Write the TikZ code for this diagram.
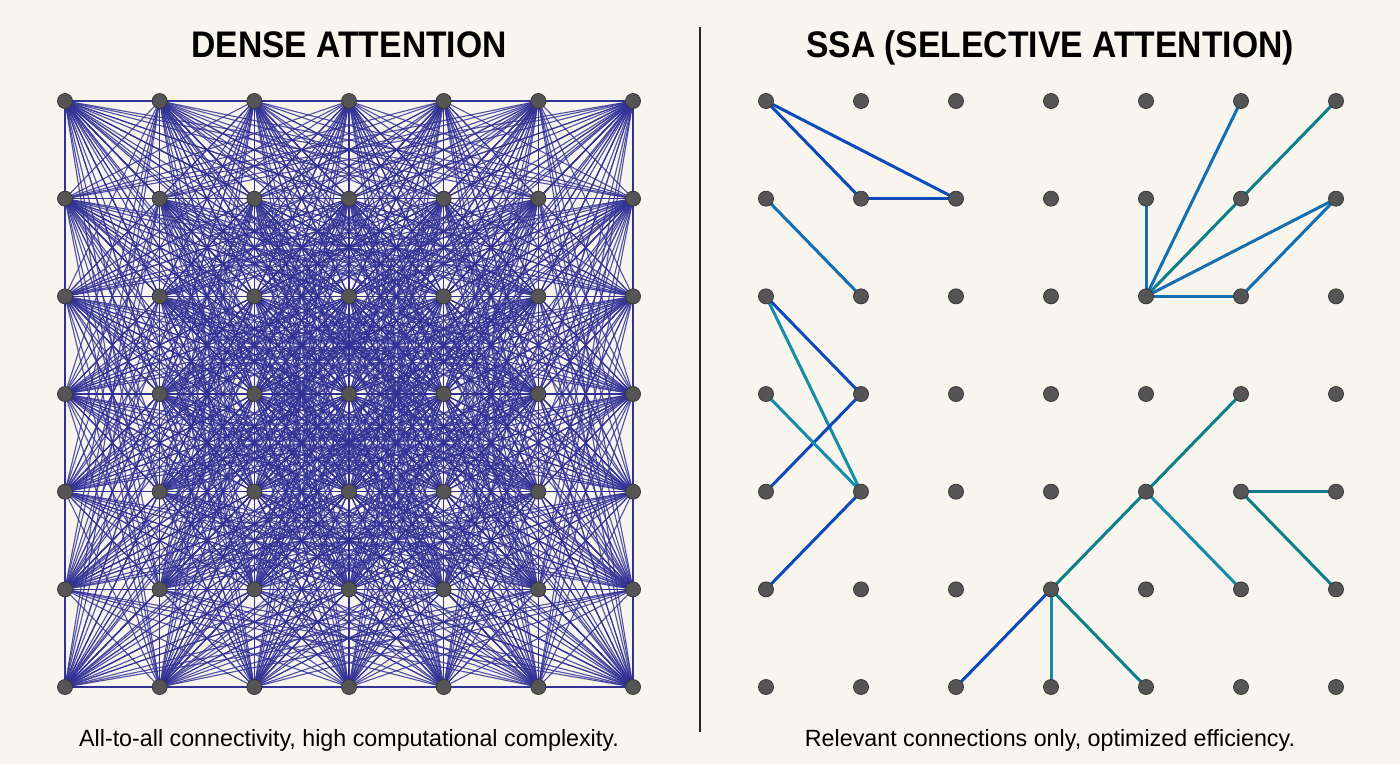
\documentclass[tikz,border=0pt]{standalone}
\usepackage{fontspec}
\setmainfont{Liberation Sans}
\newfontfamily\titlefont[FakeStretch=0.91]{Liberation Sans}
\newfontfamily\captionfont[FakeStretch=0.99]{Liberation Sans}
\usepackage{xcolor}
\usepackage{tikz}
\usetikzlibrary{calc}

\definecolor{papercolor}{HTML}{F8F5EE}
\definecolor{densecolor}{RGB}{50,50,150}
\definecolor{dotcolor}{HTML}{555555}
\definecolor{dotedge}{HTML}{383838}
\definecolor{ssablue}{RGB}{14,74,184}
\definecolor{ssamid}{RGB}{20,110,178}
\definecolor{ssateal}{RGB}{22,140,168}
\definecolor{ssadeep}{RGB}{14,126,140}

\begin{document}
\begin{tikzpicture}[x=1pt, y=-1pt]

% arguments: prefix, left x, x step
\newcommand{\setgrid}[3]{%
\foreach \r in {0,...,6} {
	\foreach \c in {0,...,6} {
		\pgfmathtruncatemacro\k{7*\r+\c}
		\path (#2 + \c*#3, 101 + \r*97.67) node [shape=coordinate] (#1\k) {} ;
	}
}
}

% arguments: prefix
\newcommand{\drawgrid}[1]{%
\foreach \k in {0,...,48} {
	\draw [line width=0.8pt, dotedge, fill=dotcolor] (#1\k) circle (7.5) ;
}
}

\tikzset{%
dense line/.style={line width=1.1pt, densecolor, opacity=0.85},
ssa line/.style={line width=3pt, line cap=round}%
}

\fill [papercolor] (0,0) rectangle (1400,764) ;
\useasboundingbox (0,0) rectangle (1400,764) ;

\setgrid{L}{65}{94.67}
\setgrid{R}{766}{95}

% titles and captions

\node [anchor=base] (densetitle) at (349,57)
	{\titlefont\bfseries\fontsize{37}{40}\selectfont DENSE ATTENTION} ;
\node [anchor=base] (ssatitle) at (1050,57)
	{\titlefont\bfseries\fontsize{37}{40}\selectfont SSA (SELECTIVE ATTENTION)} ;

\node [anchor=base] (densecaption) at (349,746)
	{\captionfont\fontsize{23.5}{26}\selectfont All-to-all connectivity, high computational complexity.} ;
\node [anchor=base] (ssacaption) at (1050,746)
	{\captionfont\fontsize{23.5}{26}\selectfont Relevant connections only, optimized efficiency.} ;

\draw [line width=1.6pt, black!85] (700,27) -- (700,732) ;

% draw dense connections

\foreach \a in {0,...,47} {
	\pgfmathtruncatemacro\first{\a+1}
	\foreach \b in {\first,...,48} {
		\draw [dense line] (L\a) -- (L\b) ;
	}
}

% draw selective connections

\foreach \a/\b/\col in {0/8/ssablue, 0/9/ssablue, 8/9/ssablue, 7/15/ssamid,
		14/22/ssablue, 14/29/ssateal, 22/28/ssablue, 21/29/ssateal, 29/35/ssablue,
		18/11/ssamid, 18/5/ssamid, 18/6/ssadeep, 18/13/ssamid, 18/19/ssamid, 19/13/ssamid,
		26/38/ssadeep, 32/40/ssateal, 38/44/ssablue, 38/45/ssateal, 38/46/ssadeep,
		33/34/ssadeep, 33/41/ssadeep} {
	\draw [ssa line, \col] (R\a) -- (R\b) ;
}

% draw points

\drawgrid{L}
\drawgrid{R}

\end{tikzpicture}
\end{document}
